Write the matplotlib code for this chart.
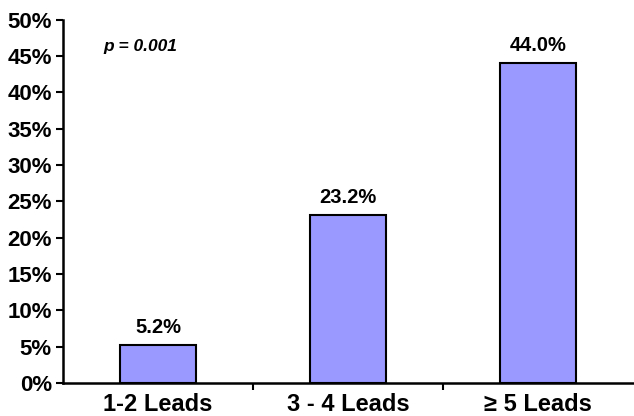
import matplotlib.pyplot as plt
from matplotlib.ticker import FuncFormatter

categories = ['1-2 Leads', '3 - 4 Leads', '\u2265 5 Leads']
values = [5.2, 23.2, 44.0]
value_labels = ['5.2%', '23.2%', '44.0%']

plt.rcParams['font.family'] = ['Liberation Sans', 'DejaVu Sans']
plt.rcParams['font.weight'] = 'bold'

fig = plt.figure(figsize=(6.34, 4.16), dpi=100)
ax = fig.add_axes([0.0994, 0.0793, 0.899, 0.873])

x = range(len(categories))
ax.bar(x, values, width=0.4, color='#9999ff', edgecolor='black', linewidth=1.5, zorder=2)

for xi, v, lab in zip(x, values, value_labels):
    ax.text(xi, v + 1.1, lab, ha='center', va='bottom', fontsize=14.5, fontweight='bold')

ax.text(-0.29, 46.3, 'p = 0.001', ha='left', va='center', fontsize=12.5,
        fontweight='bold', fontstyle='italic')

ax.set_xlim(-0.5, 2.5)
ax.set_ylim(0, 50)
ax.set_yticks(range(0, 51, 5))
ax.yaxis.set_major_formatter(FuncFormatter(lambda v, p: f'{int(v)}%'))
ax.set_xticks(list(x))
ax.set_xticklabels(categories, fontsize=17, fontweight='bold')
ax.set_xticks([0.5, 1.5], minor=True)
ax.tick_params(axis='x', which='major', length=0, pad=7)
ax.tick_params(axis='x', which='minor', length=5, width=1.5, direction='out')
ax.tick_params(axis='y', length=5, width=1.5, direction='out', labelsize=16, pad=3)
for lab in ax.get_yticklabels():
    lab.set_fontweight('bold')

ax.spines['top'].set_visible(False)
ax.spines['right'].set_visible(False)
ax.spines['left'].set_linewidth(1.8)
ax.spines['bottom'].set_linewidth(1.8)

fig.savefig('out.png', dpi=100)
